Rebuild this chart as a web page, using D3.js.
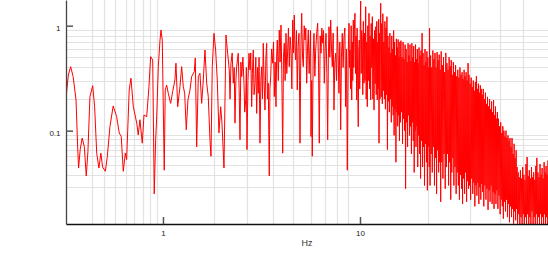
<!DOCTYPE html>
<html>
<head>
<meta charset="utf-8">
<script src="https://cdn.jsdelivr.net/npm/d3@7"></script>
<style>
  body { margin: 0; background: #fff; }
  svg { display: block; }
</style>
</head>
<body>
<div id="chart"></div>
<script>
// spectrum, [Hz, amplitude]
var lowBand = [
  [0.322,0.204],[0.331,0.339],[0.340,0.407],[0.350,0.327],[0.362,0.196],[0.369,0.070],[0.373,0.044],
  [0.380,0.066],[0.389,0.085],[0.399,0.070],[0.408,0.037],[0.416,0.063],[0.426,0.211],[0.440,0.268],
  [0.450,0.169],[0.461,0.061],[0.473,0.044],[0.484,0.061],[0.494,0.045],[0.510,0.041],[0.522,0.057],
  [0.538,0.109],[0.559,0.172],[0.582,0.136],[0.600,0.095],[0.614,0.088],[0.629,0.041],[0.644,0.061],
  [0.654,0.053],[0.674,0.244],[0.688,0.316],[0.707,0.169],[0.736,0.118],[0.749,0.091],[0.764,0.127],
  [0.785,0.076],[0.801,0.141],[0.827,0.136],[0.849,0.263],[0.866,0.507],[0.887,0.471],[0.903,0.025],
  [0.918,0.082],[0.929,0.132],[0.947,0.407],[0.966,0.73],[0.977,0.91],[0.992,0.73],[1.015,0.042],
  [1.027,0.244],[1.044,0.272],[1.064,0.227],[1.094,0.182],[1.12,0.235],[1.15,0.304],[1.164,0.439],
  [1.188,0.169],[1.22,0.263],[1.244,0.407],[1.268,0.263],[1.289,0.227],[1.313,0.102],[1.339,0.196],
  [1.371,0.244],[1.398,0.327],[1.442,0.365],[1.459,0.493],[1.483,0.070],[1.511,0.327]
];

var midBand = [
  [1.541,0.352],[1.572,0.182],[1.602,0.304],[1.634,0.587],[1.667,0.283],[1.698,0.211],[1.732,0.082],
  [1.753,0.057],[1.779,0.407],[1.815,0.846],[1.851,0.587],[1.886,0.304],[1.924,0.095],[1.963,0.169],
  [1.993,0.118],[2.04,0.044],[2.088,0.815],[2.13,0.546],[2.17,0.379],[2.19,0.2],[2.214,0.439],
  [2.245,0.55],[2.275,0.283],[2.3,0.4],[2.32,0.118],[2.345,0.3],[2.366,0.407],[2.41,0.546],[2.435,0.25],
  [2.46,0.082],[2.485,0.45],[2.51,0.327],[2.545,0.5],[2.578,0.283],[2.6,0.15],[2.63,0.196],[2.65,0.4],
  [2.67,0.066],[2.7,0.3],[2.733,0.546],[2.765,0.379],[2.79,0.55],[2.82,0.169],[2.845,0.35],[2.873,0.587],
  [2.9,0.22],[2.931,0.283],[2.96,0.5],[2.99,0.146],[3.02,0.4],[3.046,0.227],[3.075,0.5],[3.108,0.076],
  [3.14,0.3],[3.17,0.407],[3.2,0.2],[3.229,0.68],[3.26,0.3],[3.294,0.157],[3.33,0.5],[3.36,0.68],
  [3.39,0.2],[3.423,0.283],[3.464,0.037],[3.49,0.25],[3.522,0.327],[3.56,0.6],[3.605,0.439],[3.64,0.7],
  [3.673,0.211],[3.71,0.45],[3.747,0.169],[3.775,0.5],
  [3.804,0.73],[3.85,0.3],[3.894,0.91],[3.93,0.45],[3.972,1.015],[4.01,0.35],[4.052,0.061],[4.09,0.5],
  [4.128,0.68],[4.17,0.3],[4.211,0.846],[4.25,0.35],[4.295,0.587],[4.335,0.95],[4.376,0.407],[4.42,0.78],
  [4.464,0.587],[4.51,0.25],[4.554,1.133],[4.6,0.55],[4.64,1.264],[4.68,0.6],[4.716,0.471],[4.76,0.9],
  [4.805,0.244],[4.85,0.62],[4.902,0.846],[4.93,0.3],[4.96,0.076],[5.01,0.6],[5.06,1.313],[5.11,0.5],
  [5.155,0.407],[5.21,1.0],[5.259,0.73],[5.31,0.95],[5.364,0.283],[5.415,0.6],[5.466,0.91],[5.52,0.35],
  [5.575,0.631],[5.61,0.9],[5.641,0.088],[5.685,0.3],[5.727,0.057],[5.785,0.5],[5.842,0.846],[5.9,0.33],
  [5.959,0.587],[6.03,0.85],[6.1,1.054],[6.16,0.4],[6.215,0.076],[6.28,0.8],[6.34,0.546],[6.4,0.95],
  [6.468,0.68],[6.53,0.9],[6.59,0.283],[6.655,0.6],[6.722,0.846],[6.79,0.35],[6.855,0.082],[6.91,0.5],
  [6.96,0.978],[7.03,0.5],[7.1,1.133],[7.17,0.6],[7.235,0.407],[7.31,0.85],[7.38,0.157],[7.45,0.45],
  [7.527,0.546],[7.6,0.3],[7.67,0.978],[7.745,0.55],[7.82,0.227],[7.9,0.7],[7.98,0.102],[8.05,0.5],
  [8.13,0.846],[8.21,0.4],[8.296,0.786],[8.38,0.95],[8.462,0.169],[8.54,0.6],[8.622,0.042],[8.71,0.5],
  [8.795,1.054],[8.845,0.4],[8.897,0.587],[8.96,0.25],[9.02,1.0],[9.077,0.196],[9.14,0.7],[9.19,0.3],
  [9.248,1.133],[9.3,0.4],[9.36,0.9],[9.433,1.313],[9.49,0.35],[9.55,0.8],[9.62,0.196],[9.67,0.95],
  [9.73,0.3],[9.8,0.109],[9.86,0.6],[9.92,0.73],[9.97,0.25],[10.03,1.0],[10.08,1.72],[10.14,0.35],
  [10.2,0.9],[10.27,0.73],[10.33,0.22],[10.4,1.1],[10.48,0.283],[10.54,0.85],[10.61,0.3],[10.69,1.517],
  [10.75,0.2],[10.82,0.7],[10.89,0.169],[10.96,1.0],[11.03,0.3],[11.11,1.313],[11.18,0.25],[11.25,0.8],
  [11.33,0.196],[11.4,1.05],[11.47,0.4],[11.55,1.218],[11.62,0.2],[11.7,0.75],[11.78,0.157],[11.86,0.9],
  [11.94,0.28],[12.02,0.978],[12.09,0.22],[12.17,1.1],[12.24,0.196],[12.31,0.7],[12.38,0.25],[12.44,1.15],
  [12.49,0.076],[12.56,0.85],[12.63,0.2],[12.69,0.95],[12.74,1.635]
];

var highBand = [
  [12.82,0.21],[12.9,1.05],[12.98,0.18],[13.06,1.3],[13.14,0.24],[13.22,0.7],[13.3,0.2],[13.38,1.1],
  [13.46,0.16],[13.54,0.95],[13.62,0.22],[13.7,1.22],[13.78,0.066],[13.86,0.8],[13.94,0.19],
  [14.02,0.62],[14.1,0.15],[14.18,0.85],[14.26,0.2],[14.34,0.55],[14.42,0.12],[14.5,0.8],[14.58,0.17],
  [14.66,0.6],[14.74,0.14],[14.82,0.9],[14.9,0.09],[14.98,0.7],[15.06,0.16],[15.14,0.52],[15.22,0.05],
  [15.3,0.75],[15.38,0.15],[15.46,0.62],[15.54,0.11],[15.62,0.74],[15.7,0.14],[15.78,0.5],[15.86,0.08],
  [15.94,0.7],
  [16.04,0.12],[16.14,0.72],[16.24,0.15],[16.34,0.5],[16.44,0.075],[16.54,0.7],[16.64,0.13],[16.74,0.48],
  [16.84,0.1],[16.94,0.66],[17.04,0.028],[17.14,0.6],[17.24,0.12],[17.34,0.45],[17.44,0.07],[17.54,0.68],
  [17.64,0.14],[17.74,0.52],[17.84,0.09],[17.94,0.66],
  [18.04,0.11],[18.14,0.46],[18.24,0.06],[18.34,0.68],[18.44,0.12],[18.54,0.5],[18.64,0.08],[18.74,0.64],
  [18.84,0.04],[18.94,0.45],[19.04,0.1],[19.14,0.66],[19.24,0.07],[19.34,0.48],[19.44,0.11],[19.54,0.6],
  [19.64,0.045],[19.74,0.44],[19.84,0.09],[19.94,0.62],
  [20.06,0.06],[20.18,0.52],[20.3,0.035],[20.42,0.58],[20.54,0.08],[20.66,0.85],[20.78,0.045],[20.9,0.55],
  [21.02,0.07],[21.14,0.42],[21.26,0.03],[21.38,0.6],[21.5,0.075],[21.62,0.45],[21.74,0.05],[21.86,0.57],
  [21.98,0.027],[22.1,0.5],[22.22,0.07],[22.34,0.4],[22.46,0.045],[22.55,0.95],
  [22.68,0.03],[22.83,0.52],[22.98,0.06],[23.13,0.4],[23.28,0.04],[23.43,0.58],[23.58,0.07],[23.73,0.48],
  [23.88,0.03],[24.03,0.55],[24.18,0.055],[24.33,0.4],[24.48,0.025],[24.63,0.56],[24.78,0.065],[24.93,0.47],
  [25.08,0.04],[25.23,0.53],[25.38,0.05],[25.53,0.38],[25.68,0.021],[25.83,0.57],
  [26.0,0.05],[26.18,0.42],[26.36,0.035],[26.54,0.5],[26.72,0.06],[26.9,0.36],[27.08,0.028],[27.26,0.55],
  [27.44,0.045],[27.62,0.44],[27.8,0.06],[27.98,0.38],[28.16,0.03],[28.34,0.5],[28.52,0.05],[28.7,0.41],
  [28.88,0.022],[29.06,0.47],[29.24,0.04],[29.42,0.34],[29.6,0.055],[29.78,0.45],
  [29.96,0.03],[30.16,0.36],[30.36,0.045],[30.56,0.42],[30.76,0.025],[30.96,0.33],[31.16,0.04],[31.36,0.38],
  [31.56,0.03],[31.76,0.32],[31.96,0.022],[32.16,0.4],[32.36,0.038],[32.56,0.34],[32.76,0.028],[32.96,0.36],
  [33.16,0.02],[33.36,0.31],[33.56,0.035],[33.76,0.38],[33.96,0.025],[34.16,0.33],[34.36,0.04],[34.56,0.36],
  [34.76,0.021],[34.96,0.3],[35.16,0.033],[35.36,0.44],[35.56,0.028],[35.76,0.34],
  [35.98,0.03],[36.21,0.28],[36.44,0.022],[36.67,0.32],[36.9,0.035],[37.13,0.26],[37.36,0.025],[37.59,0.3],
  [37.82,0.032],[38.05,0.24],[38.28,0.019],[38.51,0.29],[38.74,0.03],[38.97,0.33],[39.2,0.024],[39.43,0.25],
  [39.66,0.032],[39.89,0.28],[40.12,0.02],[40.35,0.23],[40.58,0.029],[40.81,0.27],[41.04,0.022],[41.27,0.25],
  [41.5,0.031],[41.73,0.22],
  [41.96,0.026],[42.23,0.25],[42.5,0.019],[42.77,0.2],[43.04,0.03],[43.31,0.23],[43.58,0.022],[43.85,0.18],
  [44.12,0.028],[44.39,0.21],[44.66,0.0176],[44.93,0.17],[45.2,0.027],[45.47,0.2],[45.74,0.021],[46.01,0.16],
  [46.28,0.03],[46.55,0.19],[46.82,0.02],[47.09,0.15],[47.36,0.026],[47.63,0.196],[47.9,0.018],[48.17,0.14],
  [48.44,0.025],[48.71,0.17],[48.98,0.02],[49.25,0.13],[49.52,0.027],[49.79,0.15],
  [50.12,0.018],[50.45,0.13],[50.78,0.024],[51.11,0.11],[51.44,0.016],[51.77,0.12],[52.1,0.022],[52.43,0.095],
  [52.76,0.019],[53.09,0.11],[53.42,0.0145],[53.75,0.1],[54.08,0.021],[54.41,0.088],[54.74,0.017],[55.07,0.1],
  [55.4,0.022],[55.73,0.085],[56.06,0.015],[56.39,0.09],[56.72,0.02],[57.05,0.08],[57.38,0.0134],[57.71,0.085],
  [58.04,0.019],[58.4,0.07],[58.76,0.015],[59.12,0.085],[59.48,0.018],[59.84,0.06],[60.2,0.013],[60.56,0.075],
  [60.92,0.017],[61.28,0.055],[61.64,0.014],[62.0,0.065],[62.36,0.018],[62.72,0.045],
  [63.08,0.013],[63.5,0.04],[63.92,0.016],[64.34,0.036],[64.76,0.012],[65.2,0.042],[65.64,0.015],[66.08,0.035],
  [66.52,0.0125],[66.96,0.045],[67.4,0.016],[67.84,0.038],[68.28,0.012],[68.72,0.034],[69.16,0.015],[69.6,0.048],
  [70.04,0.0125],[70.5,0.056],[70.96,0.016],[71.42,0.037],[71.88,0.012],[72.34,0.042],[72.8,0.015],[73.26,0.035],
  [73.72,0.0125],[74.2,0.045],[74.68,0.017],[75.16,0.036],[75.64,0.012],[76.12,0.04],[76.6,0.015],[77.08,0.034],
  [77.56,0.0125],[78.04,0.046],[78.52,0.016],[79.0,0.055],[79.5,0.012],[80.0,0.04],[80.5,0.015],[81.0,0.036],
  [81.5,0.0125],[82.0,0.048],[82.5,0.016],[83.0,0.038],[83.5,0.012],[84.0,0.044],[84.5,0.015],[85.0,0.035],
  [85.5,0.0125],[86.0,0.05],[86.5,0.016],[87.0,0.04],[87.5,0.012],[88.0,0.046],[88.5,0.015],[89.0,0.038],
  [89.5,0.0125],[90.0,0.052],[90.5,0.015],[91.0,0.044]
];

var xDomain = [0.322, 90];
var yDomain = [0.0129, 1.757];
var xTicks = [1, 10];
var yTicks = [0.1, 1];
var xGrid = [0.438, 0.504, 0.573, 0.646, 0.715, 0.789, 0.859, 0.929,
             1.815, 2.66, 3.605, 4.553, 5.62, 6.62, 7.615, 8.69,
             22.2, 36.3, 51.2, 67.0];
var yGrid = [0.9, 0.8, 0.7, 0.6, 0.5, 0.4, 0.3, 0.2,
             0.0914, 0.0824, 0.0736, 0.0648, 0.0568, 0.0468, 0.0376, 0.0289];
var xLabel = "Hz";

var width = 548, height = 253;
var plotLeft = 66, plotBottom = 224, plotRight = 548, plotTop = 0;
var fontFamily = "'Liberation Sans', Arial, sans-serif";

var svg = d3.select("#chart").append("svg")
  .attr("width", width)
  .attr("height", height);

var x = d3.scaleLog().domain(xDomain).range([plotLeft, plotRight]);
var y = d3.scaleLog().domain(yDomain).range([plotBottom, plotTop]);

svg.append("defs").append("clipPath")
  .attr("id", "plotClip")
  .append("rect")
    .attr("x", plotLeft)
    .attr("y", plotTop)
    .attr("width", plotRight - plotLeft)
    .attr("height", plotBottom - plotTop);

// grid
svg.append("g")
  .selectAll("line")
  .data(xGrid)
  .enter().append("line")
    .attr("x1", function(d) { return Math.round(x(d)) + 0.5; })
    .attr("x2", function(d) { return Math.round(x(d)) + 0.5; })
    .attr("y1", plotTop)
    .attr("y2", plotBottom)
    .attr("stroke", "#e2e2e2")
    .attr("stroke-width", 1.2);

svg.append("g")
  .selectAll("line")
  .data(yGrid)
  .enter().append("line")
    .attr("x1", plotLeft)
    .attr("x2", plotRight)
    .attr("y1", function(d) { return Math.round(y(d)) + 0.5; })
    .attr("y2", function(d) { return Math.round(y(d)) + 0.5; })
    .attr("stroke", "#e2e2e2")
    .attr("stroke-width", 1.2);

var series = lowBand.concat(midBand, highBand);

var line = d3.line()
  .x(function(d) { return x(d[0]); })
  .y(function(d) { return y(d[1]); });

svg.append("path")
  .datum(series)
  .attr("clip-path", "url(#plotClip)")
  .attr("d", line)
  .attr("fill", "none")
  .attr("stroke", "#ff0000")
  .attr("stroke-width", 1)
  .attr("stroke-linejoin", "miter");

// axes
var xAxis = d3.axisBottom(x)
  .tickValues(xTicks)
  .tickFormat(d3.format("~g"))
  .tickSizeInner(-7)
  .tickSizeOuter(0)
  .tickPadding(6);

var yAxis = d3.axisLeft(y)
  .tickValues(yTicks)
  .tickFormat(d3.format("~g"))
  .tickSizeInner(-7)
  .tickSizeOuter(0)
  .tickPadding(5.5);

var gx = svg.append("g")
  .attr("transform", "translate(0," + plotBottom + ")")
  .call(xAxis);

var gy = svg.append("g")
  .attr("transform", "translate(" + plotLeft + ",0)")
  .call(yAxis);

gx.select(".domain").attr("stroke", "#111").attr("stroke-width", 1.3);
gy.select(".domain").attr("stroke", "#444").attr("stroke-width", 1.3);

svg.selectAll(".tick line").attr("stroke", "#555").attr("stroke-width", 1.5);
svg.selectAll(".tick text")
  .attr("fill", "#222")
  .style("font-family", fontFamily)
  .style("font-size", "8px");

gy.selectAll(".tick text").attr("dy", "0.55em");

svg.append("text")
  .attr("x", (plotLeft + plotRight) / 2)
  .attr("y", 246)
  .attr("text-anchor", "middle")
  .attr("fill", "#333")
  .style("font-family", fontFamily)
  .style("font-size", "9px")
  .text(xLabel);
</script>
</body>
</html>
